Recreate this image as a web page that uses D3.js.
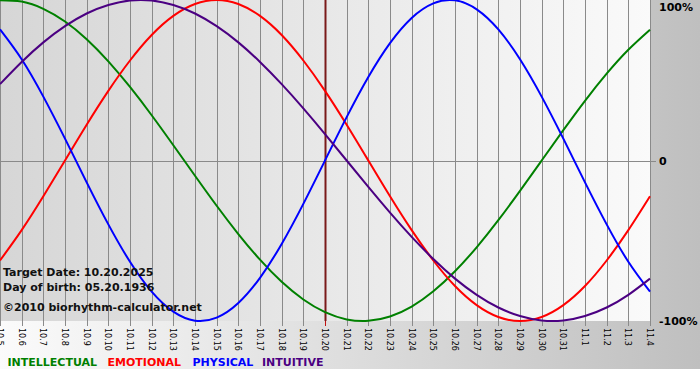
<!DOCTYPE html>
<html>
<head>
<meta charset="utf-8">
<script src="https://cdn.jsdelivr.net/npm/d3@7"></script>
<style>
  html, body { margin: 0; padding: 0; background: #ffffff; }
  svg { display: block; }
</style>
</head>
<body>
<div id="chart"></div>
<script>
// ---- data ----
const dates = ["10.5","10.6","10.7","10.8","10.9","10.10","10.11","10.12","10.13","10.14","10.15","10.16","10.17","10.18","10.19","10.20","10.21","10.22","10.23","10.24","10.25","10.26","10.27","10.28","10.29","10.30","10.31","11.1","11.2","11.3","11.4"];
const intellectual = [99.9,99.0,94.5,86.6,75.6,61.8,45.8,28.2,9.5,-9.5,-28.2,-45.8,-61.8,-75.6,-86.6,-94.5,-99.0,-99.9,-97.2,-91.0,-81.5,-69.0,-54.1,-37.2,-18.9,0,18.9,37.2,54.1,69.0,81.5];
const emotional = [-62.3,-43.4,-22.3,0,22.3,43.4,62.3,78.2,90.1,97.5,100,97.5,90.1,78.2,62.3,43.4,22.3,0,-22.3,-43.4,-62.3,-78.2,-90.1,-97.5,-100,-97.5,-90.1,-78.2,-62.3,-43.4,-22.3];
const physical = [81.7,63.1,39.8,13.6,-13.6,-39.8,-63.1,-81.7,-94.2,-99.8,-97.9,-88.8,-73.1,-52.0,-27.0,0,27.0,52.0,73.1,88.8,97.9,99.8,94.2,81.7,63.1,39.8,13.6,-13.6,-39.8,-63.1,-81.7];
const intuitive = [47.6,61.4,73.6,83.7,91.6,96.9,99.7,99.7,96.9,91.6,83.7,73.6,61.4,47.6,32.5,16.5,0,-16.5,-32.5,-47.6,-61.4,-73.6,-83.7,-91.6,-96.9,-99.7,-99.7,-96.9,-91.6,-83.7,-73.6];
const seriesNames = ["INTELLECTUAL","EMOTIONAL","PHYSICAL","INTUITIVE"];
const yTickValues = [100, 0, -100];
const yTickLabels = ["100%", "0", "-100%"];
const targetDate = "10.20";
const infoLines = ["Target Date: 10.20.2025", "Day of birth: 05.20.1936", "\u00a92010 biorhythm-calculator.net"];

// ---- layout ----
const W = 700, H = 380;
const plot = { left: 0, top: 0, right: 650, bottom: 321 };
const colors = ["#008000", "#ff0000", "#0000ff", "#4b0082"];
const font = "'DejaVu Sans', Verdana, sans-serif";

const svg = d3.select("#chart").append("svg").attr("width", W).attr("height", H);
const defs = svg.append("defs");
const g1 = defs.append("linearGradient").attr("id", "bgGrad").attr("x1", 0).attr("x2", 1).attr("y1", 0).attr("y2", 0);
g1.append("stop").attr("offset", 0).attr("stop-color", "#fbfbfb");
g1.append("stop").attr("offset", 1).attr("stop-color", "#bfbfbf");
const g2 = defs.append("linearGradient").attr("id", "plotGrad").attr("x1", 0).attr("x2", 1).attr("y1", 0).attr("y2", 0);
g2.append("stop").attr("offset", 0).attr("stop-color", "#d6d6d6");
g2.append("stop").attr("offset", 1).attr("stop-color", "#fafafa");

svg.append("rect").attr("x", 0).attr("y", 0).attr("width", W).attr("height", H).attr("fill", "#ffffff");
svg.append("rect").attr("x", 0).attr("y", 0).attr("width", W).attr("height", 369).attr("fill", "url(#bgGrad)");
svg.append("rect").attr("x", plot.left).attr("y", plot.top).attr("width", plot.right - plot.left + 1).attr("height", plot.bottom - plot.top)
  .attr("fill", "url(#plotGrad)");

const x = d3.scalePoint().domain(dates).range([plot.left, plot.right]);
const y = d3.scaleLinear().domain([-100, 100]).range([plot.bottom, plot.top]);

// vertical grid + ticks
const grid = svg.append("g");
grid.selectAll("line.v").data(dates).join("line")
  .attr("x1", d => Math.round(x(d)) + 0.5).attr("x2", d => Math.round(x(d)) + 0.5)
  .attr("y1", plot.top).attr("y2", plot.bottom + 5)
  .attr("stroke", d => d === targetDate ? "#c01010" : "#8a8a8a").attr("stroke-width", 1);
// zero line
grid.append("line").attr("x1", plot.left).attr("x2", plot.right + 6)
  .attr("y1", Math.round(y(0)) + 0.5).attr("y2", Math.round(y(0)) + 0.5)
  .attr("stroke", "#8a8a8a");

// target date line
svg.append("line").attr("x1", x(targetDate) + 0.5).attr("x2", x(targetDate) + 0.5)
  .attr("y1", plot.top).attr("y2", plot.bottom)
  .attr("stroke", "#7a1a1a").attr("stroke-width", 2);

// x labels
svg.append("g").selectAll("text").data(dates).join("text")
  .attr("transform", d => `translate(${Math.round(x(d)) - 3},${plot.bottom + 7}) rotate(90)`)
  .attr("font-family", font).attr("font-size", 8).attr("fill", "#000")
  .text(d => d);

// y labels (right)
svg.append("g").selectAll("text").data(yTickValues).join("text")
  .attr("x", 659)
  .attr("y", (d, i) => i === 0 ? 11 : y(d) + 4)
  .attr("font-family", font).attr("font-size", 11).attr("font-weight", "bold").attr("fill", "#000")
  .text((d, i) => yTickLabels[i]);

// curves
const allSeries = [intellectual, emotional, physical, intuitive];
const line = d3.line().x((d, i) => x(dates[i])).y(d => y(d)).curve(d3.curveNatural);
svg.append("g").selectAll("path").data(allSeries).join("path")
  .attr("d", d => line(d)).attr("fill", "none")
  .attr("stroke", (d, i) => colors[i]).attr("stroke-width", 2);

// info text
svg.append("g").selectAll("text").data(infoLines).join("text")
  .attr("x", 3).attr("y", (d, i) => [275.5, 291, 311][i])
  .attr("font-family", font).attr("font-size", 11).attr("font-weight", "bold").attr("fill", "#111")
  .text(d => d);

// legend
const legendX = [7.5, 107.5, 192.5, 262];
svg.append("g").selectAll("text").data(seriesNames).join("text")
  .attr("x", (d, i) => legendX[i]).attr("y", 365.5)
  .attr("font-family", font).attr("font-size", 11).attr("font-weight", "bold")
  .attr("fill", (d, i) => colors[i])
  .text(d => d);
</script>
</body>
</html>
